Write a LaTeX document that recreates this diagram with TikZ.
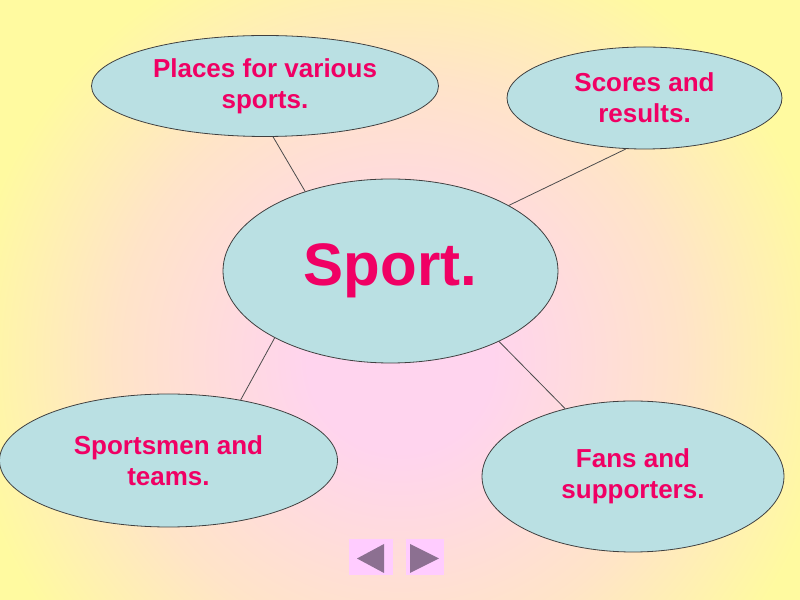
\documentclass[tikz,border=0pt]{standalone}
\usepackage{fontspec}
\setmainfont{Liberation Sans}
\usepackage{xcolor}
\usepackage{tikz}
\usetikzlibrary{shapes.geometric}

\definecolor{bgpink}{RGB}{255,212,238}
\definecolor{bgpeach}{RGB}{255,228,200}
\definecolor{bgyellow}{RGB}{255,250,160}
\definecolor{bubblefill}{RGB}{186,224,227}
\definecolor{bubbletext}{RGB}{240,0,100}
\definecolor{navfill}{RGB}{255,204,255}
\definecolor{navarrow}{RGB}{140,112,145}

\pgfdeclareradialshading{bgglow}{\pgfpoint{0bp}{0bp}}{%
    color(0bp)=(bgpink); color(5.5bp)=(bgpink); color(17bp)=(bgpeach);
    color(26bp)=(bgyellow); color(50bp)=(bgyellow)}

\begin{document}
\begin{tikzpicture}[
    x=0.5pt, y=0.5pt,
    % --- node styles -------------------------------------------------
    bubble/.style={
        ellipse, draw=black!75, line width=0.4pt, fill=bubblefill,
        inner sep=0pt, align=center, text=bubbletext,
        font=\fontsize{13}{15.5}\selectfont\bfseries
    },
    hub/.style={
        bubble, font=\fontsize{30}{36}\selectfont\bfseries
    },
    navbtn/.style={
        rectangle, fill=navfill, inner sep=0pt, minimum height=18pt
    },
    navtri/.style={fill=navarrow},
    link/.style={draw=black!70, line width=0.4pt}
]

% --- background ---------------------------------------------------
\useasboundingbox (0,0) rectangle (800,600);
\begin{scope}
    \clip (0,0) rectangle (800,600);
    \fill[bgyellow] (0,0) rectangle (800,600);
    \shade[shading=bgglow] (-20,-180) rectangle (820,660);
\end{scope}

% --- centre bubble ------------------------------------------------
\node[hub, minimum width=167.5pt, minimum height=92pt] (sport) at (390.5,329) {Sport.};

% --- four outer bubbles -------------------------------------------
\node[bubble, minimum width=173.5pt, minimum height=50.5pt] (places) at (265,514)
    {Places for various\\sports.};
\node[bubble, minimum width=137.5pt, minimum height=51pt] (scores) at (644.5,502)
    {Scores and\\results.};
\node[bubble, minimum width=169pt, minimum height=66.5pt] (sportsmen) at (168.5,139.5)
    {Sportsmen and\\teams.};
\node[bubble, minimum width=151pt, minimum height=75.5pt] (fans) at (633,123.5)
    {Fans and\\supporters.};

% --- links --------------------------------------------------------
\draw[link] (places.-81)     -- (sport.137);
\draw[link] (scores.-110)    -- (sport.29);
\draw[link] (sportsmen.40)   -- (sport.210);
\draw[link] (fans.135)       -- (sport.-33);

% --- navigation buttons -------------------------------------------
\node[navbtn, minimum width=22pt] (prev) at (371,43) {};
\node[navbtn, minimum width=19pt] (next) at (425,43) {};
\fill[navtri] (357,41.5) -- (384,56) -- (384,27) -- cycle;
\fill[navtri] (410,56) -- (410,27) -- (439,41.5) -- cycle;

\end{tikzpicture}
\end{document}
